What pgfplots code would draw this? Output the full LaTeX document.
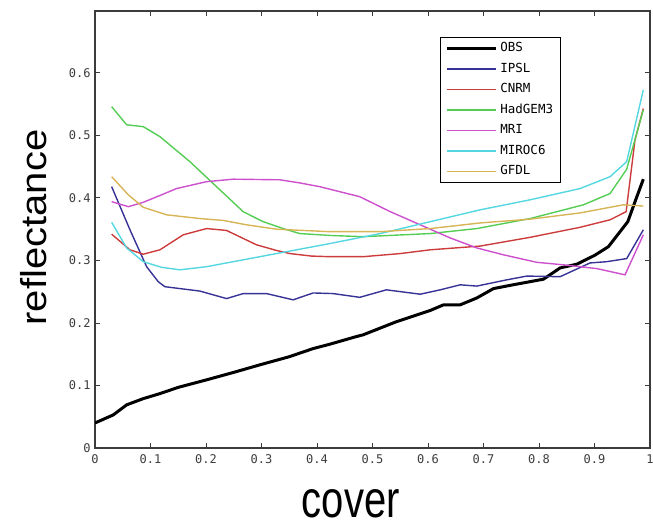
\documentclass[border=0pt]{standalone}
\usepackage{fontspec}
\setmainfont{Liberation Sans}
\setmonofont{DejaVu Sans Mono}
\usepackage{graphicx}
\usepackage{pgfplots}
\pgfplotsset{compat=1.18}
\definecolor{cIPSL}{RGB}{55,50,150}
\definecolor{cCNRM}{RGB}{205,60,60}
\definecolor{cHad}{RGB}{85,205,85}
\definecolor{cMRI}{RGB}{205,80,205}
\definecolor{cMIR}{RGB}{85,215,225}
\definecolor{cGFDL}{RGB}{215,180,85}
\definecolor{frame}{RGB}{60,60,60}
\begin{document}
\begin{tikzpicture}
\path[use as bounding box] (0,0) rectangle (653bp,529bp);
\begin{axis}[
  at={(95bp,81bp)}, anchor=south west,
  scale only axis, width=555bp, height=437bp,
  xmin=0, xmax=1, ymin=0, ymax=0.699,
  xtick={0,0.1,...,1.01}, ytick={0,0.1,...,0.61},
  /pgf/number format/assume math mode=true,
  /pgf/number format/fixed, /pgf/number format/precision=1,
  tick label style={font=\fontsize{12bp}{14bp}\selectfont\ttfamily, text=frame},
  xticklabel style={yshift=-3bp},
  yticklabel style={xshift=-1bp},
  axis line style={frame, line width=1.1bp},
  every tick/.style={frame, line width=0.9bp},
  major tick length=5bp,
  tick align=inside,
  xlabel={\scalebox{1}[1.3]{cover}},
  ylabel={\scalebox{1}[0.9]{reflectance}},
  label style={font=\fontsize{40bp}{48bp}\selectfont, inner sep=0pt},
  xlabel style={at={(axis description cs:0.461,-0.160)}, anchor=base},
  ylabel style={at={(axis description cs:-0.0865,0.5046)}, anchor=base},
  legend cell align=left,
  legend image code/.code={\draw[#1] (0bp,0bp) -- (49bp,0bp);},
  legend style={at={(axis description cs:0.6216,0.9405)}, anchor=north west,
    draw=black, line width=0.8bp, inner xsep=5bp, inner ysep=3.5bp,
    font=\fontsize{12.5bp}{14bp}\selectfont\ttfamily,
    nodes={inner sep=2bp, text height=9bp, text depth=2.5bp},
    row sep=5bp, column sep=1bp},
  every axis plot/.append style={line width=1.4bp},
]
\addplot[black, line width=3bp] coordinates {
(0,0.040) (0.033,0.053) (0.057,0.069) (0.087,0.079) (0.117,0.087) (0.150,0.097)
(0.201,0.109) (0.250,0.121) (0.297,0.133) (0.350,0.146) (0.393,0.159) (0.423,0.166)
(0.470,0.178) (0.483,0.181) (0.543,0.202) (0.604,0.220) (0.628,0.229) (0.658,0.229)
(0.688,0.240) (0.718,0.255) (0.753,0.261) (0.808,0.270) (0.838,0.288) (0.868,0.294)
(0.900,0.308) (0.925,0.322) (0.960,0.362) (0.973,0.394) (0.988,0.430)};
\addlegendentry{OBS}
\addplot[cIPSL] coordinates {
(0.030,0.418) (0.063,0.349) (0.093,0.290) (0.114,0.266) (0.126,0.258) (0.171,0.253)
(0.189,0.251) (0.237,0.239) (0.267,0.247) (0.309,0.247) (0.357,0.237) (0.393,0.248)
(0.429,0.247) (0.477,0.241) (0.525,0.253) (0.586,0.246) (0.622,0.253) (0.658,0.261)
(0.688,0.259) (0.742,0.269) (0.778,0.275) (0.838,0.274) (0.892,0.296) (0.922,0.298)
(0.958,0.303) (0.988,0.349)};
\addlegendentry{IPSL}
\addplot[cCNRM] coordinates {
(0.030,0.342) (0.063,0.317) (0.087,0.310) (0.117,0.317) (0.159,0.341) (0.201,0.351)
(0.237,0.348) (0.291,0.325) (0.327,0.316) (0.351,0.311) (0.390,0.307) (0.423,0.306)
(0.483,0.306) (0.550,0.311) (0.604,0.317) (0.694,0.323) (0.784,0.337) (0.874,0.353)
(0.928,0.365) (0.957,0.378) (0.973,0.493) (0.988,0.543)};
\addlegendentry{CNRM}
\addplot[cHad] coordinates {
(0.030,0.546) (0.057,0.517) (0.087,0.514) (0.117,0.498) (0.171,0.458) (0.219,0.418)
(0.267,0.378) (0.303,0.362) (0.339,0.351) (0.369,0.343) (0.423,0.340) (0.483,0.338)
(0.604,0.343) (0.688,0.351) (0.784,0.367) (0.880,0.389) (0.928,0.407) (0.958,0.446)
(0.988,0.541)};
\addlegendentry{HadGEM3}
\addplot[cMRI] coordinates {
(0.030,0.394) (0.060,0.386) (0.087,0.393) (0.120,0.405) (0.147,0.415) (0.201,0.426)
(0.249,0.430) (0.333,0.429) (0.369,0.424) (0.405,0.418) (0.477,0.402) (0.532,0.378)
(0.586,0.357) (0.640,0.336) (0.688,0.320) (0.736,0.309) (0.796,0.297) (0.844,0.293)
(0.904,0.287) (0.955,0.277) (0.988,0.341)};
\addlegendentry{MRI}
\addplot[cMIR] coordinates {
(0.030,0.361) (0.057,0.320) (0.087,0.298) (0.120,0.289) (0.153,0.285) (0.201,0.290)
(0.231,0.295) (0.327,0.311) (0.423,0.327) (0.514,0.343) (0.604,0.362) (0.694,0.381)
(0.784,0.397) (0.874,0.415) (0.928,0.434) (0.958,0.458) (0.988,0.573)};
\addlegendentry{MIROC6}
\addplot[cGFDL] coordinates {
(0.030,0.434) (0.060,0.405) (0.087,0.385) (0.129,0.373) (0.189,0.367) (0.231,0.364)
(0.273,0.357) (0.327,0.350) (0.423,0.346) (0.514,0.346) (0.604,0.351) (0.694,0.360)
(0.784,0.366) (0.874,0.376) (0.952,0.389) (0.988,0.387)};
\addlegendentry{GFDL}
\end{axis}
\end{tikzpicture}
\end{document}
